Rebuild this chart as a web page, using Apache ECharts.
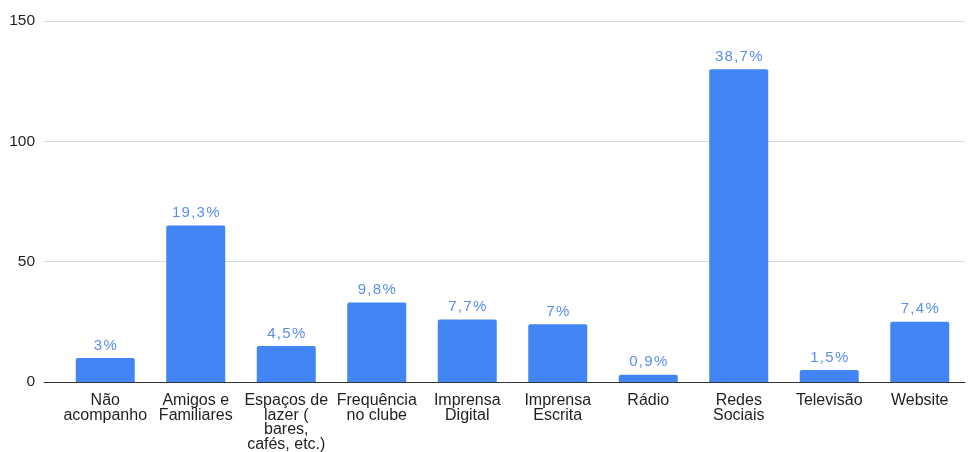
<!DOCTYPE html>
<html>
<head>
<meta charset="utf-8">
<script src="https://cdn.jsdelivr.net/npm/echarts@6/dist/echarts.min.js"></script>
<style>
  html, body { margin: 0; padding: 0; background: #ffffff; }
  #chart { width: 969px; height: 452px; }
</style>
</head>
<body>
<div id="chart"></div>
<script>
// Meios pelos quais os respondentes acompanham o clube
const categories = [
  'Não\nacompanho',
  'Amigos e\nFamiliares',
  'Espaços de\nlazer (\nbares,\ncafés, etc.)',
  'Frequência\nno clube',
  'Imprensa\nDigital',
  'Imprensa\nEscrita',
  'Rádio',
  'Redes\nSociais',
  'Televisão',
  'Website'
];
const counts = [10, 65, 15, 33, 26, 24, 3, 130, 5, 25];
const shares = ['3%', '19,3%', '4,5%', '9,8%', '7,7%', '7%', '0,9%', '38,7%', '1,5%', '7,4%'];
const yTicks = [0, 50, 100, 150];

const FONT = '"Liberation Sans", Arial, sans-serif';
const spaced = s => s.split('').join('\u200A');

const chart = echarts.init(document.getElementById('chart'), null, { renderer: 'canvas' });
chart.setOption({
  animation: false,
  backgroundColor: '#ffffff',
  grid: [
    // background grid: gridlines, baseline and value labels
    { left: 44, right: 4, top: 21, bottom: 70, containLabel: false, outerBoundsMode: 'none' },
    // bars
    { left: 60, right: 4, top: 21, bottom: 70, containLabel: false, outerBoundsMode: 'none' }
  ],
  xAxis: [
    {
      gridIndex: 0, type: 'category', data: [''],
      axisLine: { show: true, lineStyle: { color: '#333333', width: 1 } },
      axisTick: { show: false }, axisLabel: { show: false }, splitLine: { show: false }
    },
    {
      gridIndex: 1, type: 'category', data: categories,
      axisLine: { show: false }, axisTick: { show: false },
      axisLabel: {
        interval: 0, margin: 11, color: '#1f1f1f',
        fontFamily: FONT, fontSize: 16, lineHeight: 14.8
      }
    }
  ],
  yAxis: [
    {
      gridIndex: 0, type: 'value', min: yTicks[0], max: yTicks[yTicks.length - 1], interval: 50,
      axisLine: { show: false }, axisTick: { show: false },
      axisLabel: { margin: 9, color: '#1f1f1f', fontFamily: FONT, fontSize: 15.5 },
      splitLine: { show: true, lineStyle: { color: '#d9d9d9', width: 1 } }
    },
    {
      gridIndex: 1, type: 'value', min: yTicks[0], max: yTicks[yTicks.length - 1], interval: 50,
      axisLine: { show: false }, axisTick: { show: false },
      axisLabel: { show: false }, splitLine: { show: false }
    }
  ],
  series: [{
    type: 'bar',
    xAxisIndex: 1, yAxisIndex: 1,
    data: counts,
    barWidth: 59,
    itemStyle: { color: '#4285f4', borderRadius: [2, 2, 0, 0] },
    label: {
      show: true, position: 'top', distance: 5,
      color: '#5b8def', fontFamily: FONT, fontSize: 15,
      formatter: p => spaced(shares[p.dataIndex])
    },
    z: 3
  }]
});
</script>
</body>
</html>
